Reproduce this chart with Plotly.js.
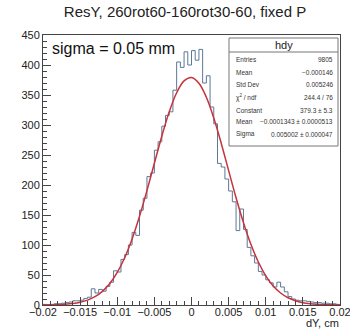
<!DOCTYPE html>
<html><head><meta charset="utf-8">
<script src="https://cdn.plot.ly/plotly-3.0.1.min.js"></script>
<style>html,body{margin:0;padding:0;background:#fff}#chart{width:350px;height:329px}</style>
</head><body><div id="chart"></div>
<script>
// ---- data ----
const xMin = -0.02, xMax = 0.02, binWidth = 0.0005;
const counts = [
  1, 0, 1, 2, 2, 3, 4, 5, 7, 7,
  8, 11, 13, 27, 20, 26, 23, 31, 38, 57,
  55, 76, 84, 100, 121, 116, 158, 178, 214, 220,
  258, 272, 298, 316, 322, 358, 405, 396, 422, 400,
  424, 408, 426, 370, 382, 330, 302, 236, 230, 210,
  190, 172, 124, 160, 126, 96, 82, 70, 56, 50,
  42, 37, 30, 38, 30, 22, 14, 10, 8, 7,
  7, 6, 5, 4, 4, 3, 3, 2, 2, 1
];
const fitStart = -0.02, fitStep = 0.001;
const fitValues = [
  0.14, 0.31, 0.64, 1.29, 2.48, 4.58, 8.14, 13.9, 22.8, 35.8,
  54.2, 78.8, 110.1, 147.8, 190.6, 236.3, 281.3, 321.9, 353.8, 373.6,
  379.2, 369.7, 346.3, 311.7, 269.6, 224.0, 178.8, 137.2, 101.1, 71.6,
  48.7, 31.8, 20.0, 12.1, 7.0, 3.9, 2.09, 1.07, 0.53, 0.25, 0.11
];
const histName = "hdy";
const statsLabels = ["Entries", "Mean", "Std Dev", "χ<sup>2</sup> / ndf", "Constant", "Mean", "Sigma"];
const statsValues = ["9805", "−0.000146", "0.005246", "244.4 / 76", "379.3 ± 5.3", "−0.0001343 ± 0.0000513", "0.005002 ± 0.000047"];
const titleText = "ResY, 260rot60-160rot30-60, fixed P";
const noteText = "sigma = 0.05 mm";
const xTitleText = "dY, cm";

// ---- build traces ----
const edges = counts.map((c, i) => xMin + i * binWidth);
edges.push(xMax);
const stepY = counts.concat([counts[counts.length - 1]]);
const fitX = fitValues.map((v, i) => fitStart + i * fitStep);

// plot-area pixel geometry
const L = 43, R = 340, T = 35, B = 305;
const px = x => (x - L) / (R - L);
const py = y => (B - y) / (B - T);

const font = "Liberation Sans, Arial, sans-serif";
const annotations = [];
annotations.push({text: noteText, x: px(50), y: py(48), xref: 'paper', yref: 'paper', xanchor: 'left', yanchor: 'middle', showarrow: false, font: {family: font, size: 16, color: '#111'}});
annotations.push({text: xTitleText, x: px(341), y: py(323), xref: 'paper', yref: 'paper', xanchor: 'right', yanchor: 'middle', showarrow: false, font: {family: font, size: 11, color: '#222'}});
annotations.push({text: histName, x: px(284), y: py(45), xref: 'paper', yref: 'paper', xanchor: 'center', yanchor: 'middle', showarrow: false, font: {family: font, size: 11, color: '#222'}});
const rowY = [59, 72, 84.5, 97, 110, 122, 134];
statsLabels.forEach((lab, k) => {
  annotations.push({text: lab, x: px(234), y: py(rowY[k]), xref: 'paper', yref: 'paper', xanchor: 'left', yanchor: 'middle', showarrow: false, font: {family: font, size: 6.5, color: '#333'}});
  annotations.push({text: statsValues[k], x: px(335), y: py(rowY[k]), xref: 'paper', yref: 'paper', xanchor: 'right', yanchor: 'middle', showarrow: false, font: {family: font, size: 6.5, color: '#333'}});
});

const shapes = [
  {type: 'rect', xref: 'paper', yref: 'paper', x0: px(229), x1: px(338), y0: py(146), y1: py(38), line: {color: '#777', width: 1}, fillcolor: '#fff', layer: 'above'},
  {type: 'line', xref: 'paper', yref: 'paper', x0: px(229), x1: px(338), y0: py(52), y1: py(52), line: {color: '#777', width: 1}, layer: 'above'}
];

const data = [
  {x: edges, y: stepY, type: 'scatter', mode: 'lines', line: {shape: 'hv', color: '#5b7896', width: 1}, hoverinfo: 'skip'},
  {x: fitX, y: fitValues, type: 'scatter', mode: 'lines', line: {shape: 'spline', smoothing: 1, color: '#c8323c', width: 1.5}, hoverinfo: 'skip'}
];

const layout = {
  width: 350, height: 329,
  margin: {l: L, r: 350 - R, t: T, b: 329 - B},
  paper_bgcolor: '#fff', plot_bgcolor: '#fff',
  showlegend: false,
  title: {text: titleText, x: 185 / 350, xref: 'container', xanchor: 'center', y: 1 - 12 / 329, yref: 'container', yanchor: 'middle', font: {family: font, size: 15, color: '#222'}},
  xaxis: {range: [xMin, xMax], tick0: xMin, dtick: 0.005, ticks: 'inside', ticklen: 8, tickcolor: '#444', tickwidth: 1,
          minor: {dtick: 0.001, ticks: 'inside', ticklen: 4, tickcolor: '#444'},
          showline: true, mirror: true, linecolor: '#444', linewidth: 1, showgrid: false, zeroline: false,
          ticklabeloverflow: 'allow', ticklabelstandoff: -3,
          tickfont: {family: font, size: 11, color: '#222'}},
  yaxis: {range: [0, 450], tick0: 0, dtick: 50, ticks: 'inside', ticklen: 8, tickcolor: '#444', tickwidth: 1,
          minor: {dtick: 10, ticks: 'inside', ticklen: 4, tickcolor: '#444'},
          showline: true, mirror: true, linecolor: '#444', linewidth: 1, showgrid: false, zeroline: false,
          tickfont: {family: font, size: 11, color: '#222'}},
  annotations: annotations,
  shapes: shapes
};

Plotly.newPlot('chart', data, layout, {displayModeBar: false, staticPlot: true});
</script>
</body></html>
